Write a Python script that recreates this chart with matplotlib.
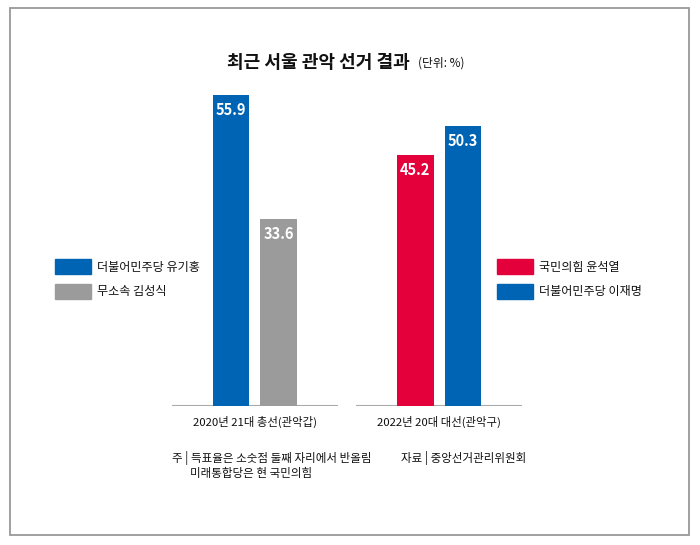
import matplotlib
matplotlib.use("Agg")
import matplotlib.pyplot as plt
from matplotlib.patches import Rectangle

plt.rcParams['font.family'] = ['Noto Sans CJK KR', 'DejaVu Sans']

# ---- data ----
groups = ["2020년 21대 총선(관악갑)", "2022년 20대 대선(관악구)"]
left_names = ["더불어민주당 유기홍", "무소속 김성식"]
left_values = [55.9, 33.6]
right_names = ["국민의힘 윤석열", "더불어민주당 이재명"]
right_values = [45.2, 50.3]
title = "최근 서울 관악 선거 결과"
unit = "(단위: %)"
note1 = "주 | 득표율은 소숫점 둘째 자리에서 반올림"
note2 = "미래통합당은 현 국민의힘"
source = "자료 | 중앙선거관리위원회"

BLUE = "#0064B4"
GRAY = "#9B9B9B"
RED = "#E4003A"
left_colors = [BLUE, GRAY]
right_colors = [RED, BLUE]

W, H = 700, 545
fig = plt.figure(figsize=(7, 5.45), dpi=100)

def fx(x):
    return x / W

def fy(y):
    return 1 - y / H

# frame
fig.patches.append(Rectangle((fx(10), fy(535)), fx(689) - fx(10), fy(8) - fy(535),
                             transform=fig.transFigure, fill=False,
                             edgecolor="#999999", linewidth=1.3))

# axes: x from 172 to 522 px, y baseline at 406 px, 5.56 px per unit
ymax = 60
ax = fig.add_axes([fx(172), fy(406), (522 - 172) / W, ymax * 5.56 / H])
ax.set_xlim(-0.451, 1.451)
ax.set_ylim(0, ymax)
ax.axis("off")

bw = 0.201
off = 0.1304
series = [(left_values, left_colors), (right_values, right_colors)]
for gi, (vals, cols) in enumerate(series):
    for bi, (v, c) in enumerate(zip(vals, cols)):
        xpos = gi + (off if bi == 1 else -off)
        ax.bar(xpos, v, width=bw, color=c, zorder=2)
        ax.annotate(f"{v:.1f}", xy=(xpos, v), xytext=(0, -10.8),
                    textcoords="offset points", ha="center", va="center",
                    color="white", fontsize=10.5, fontweight="bold", zorder=3)
    ax.hlines(0, gi - 0.451, gi + 0.451, color="#AAAAAA", linewidth=1.5, zorder=1)

# group labels
fig.text(fx(255), fy(422), groups[0], ha="center", va="center", fontsize=8.2,
         fontweight="medium", color="#111111")
fig.text(fx(439), fy(422), groups[1], ha="center", va="center", fontsize=8.2,
         fontweight="medium", color="#111111")

# title
fig.text(fx(227), fy(62), title, ha="left", va="center", fontsize=13.0,
         fontweight="heavy", color="#111111")
fig.text(fx(418), fy(63), unit, ha="left", va="center", fontsize=8.5,
         fontweight="medium", color="#111111")

# legends
def legend(x0, names, cols):
    for i, (n, c) in enumerate(zip(names, cols)):
        ytop = 259 + i * 25
        fig.patches.append(Rectangle((fx(x0), fy(ytop + 15)), 36 / W, 15 / H,
                                     transform=fig.transFigure, color=c))
        fig.text(fx(x0 + 42), fy(ytop + 8), n, ha="left", va="center",
                 fontsize=8.7, fontweight="medium", color="#111111")

legend(55, left_names, left_colors)
legend(497, right_names, right_colors)

# notes
fig.text(fx(172), fy(458), note1, ha="left", va="center", fontsize=8.3,
         fontweight="medium", color="#111111")
fig.text(fx(190), fy(473), note2, ha="left", va="center", fontsize=8.3,
         fontweight="medium", color="#111111")
fig.text(fx(401), fy(458), source, ha="left", va="center", fontsize=8.3,
         fontweight="medium", color="#111111")

fig.savefig("out.png", dpi=100)
